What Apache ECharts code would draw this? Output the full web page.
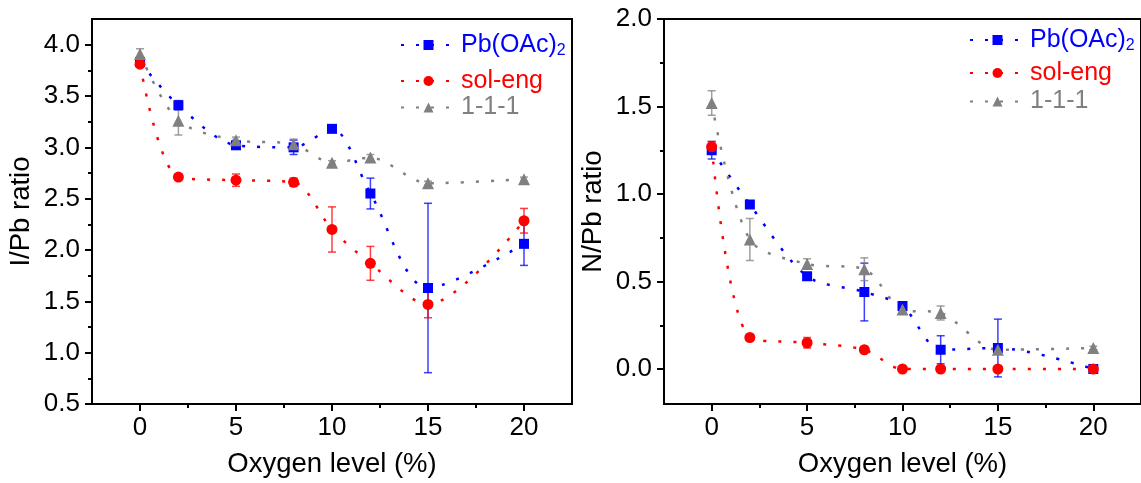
<!DOCTYPE html>
<html>
<head>
<meta charset="utf-8">
<script src="https://cdn.jsdelivr.net/npm/echarts@6/dist/echarts.min.js"></script>
<style>html,body{margin:0;padding:0;background:#fff;}#c{width:1141px;height:483px;}</style>
</head>
<body>
<div id="c"></div>
<script>
// ---- data ----
const oxygen = [0, 2, 5, 8, 10, 12, 15, 20];
const seriesNames = ['Pb(OAc)2', 'sol-eng', '1-1-1'];

// I/Pb ratio (left panel)
const iPb_PbOAc = [3.83, 3.41, 3.02, 3.00, 3.18, 2.55, 1.63, 2.06];
const iPb_PbOAc_err = [0.03, 0.045, 0.02, 0.07, 0.02, 0.15, 0.825, 0.21];
const iPb_solEng = [3.81, 2.71, 2.68, 2.66, 2.20, 1.87, 1.47, 2.285];
const iPb_solEng_err = [0.03, 0.02, 0.06, 0.04, 0.22, 0.165, 0.13, 0.12];
const iPb_111 = [3.91, 3.26, 3.07, 3.03, 2.85, 2.90, 2.65, 2.69];
const iPb_111_err = [0.05, 0.14, 0.03, 0.05, 0.02, 0.03, 0.02, 0.02];

// N/Pb ratio (right panel)
const nPb_PbOAc = [1.25, 0.94, 0.53, 0.44, 0.36, 0.11, 0.12, 0.0];
const nPb_PbOAc_err = [0.05, 0.01, 0.02, 0.165, 0.02, 0.08, 0.165, 0.01];
const nPb_solEng = [1.27, 0.18, 0.15, 0.11, 0.0, 0.0, 0.0, 0.0];
const nPb_solEng_err = [0.03, 0.01, 0.03, 0.01, 0, 0, 0, 0];
const nPb_111 = [1.52, 0.74, 0.60, 0.57, 0.34, 0.32, 0.11, 0.12];
const nPb_111_err = [0.07, 0.12, 0.03, 0.065, 0.01, 0.04, 0.01, 0.01];

// tick values
const xMajorTicks = [0, 5, 10, 15, 20];
const xMinorTicks = [2.5, 7.5, 12.5, 17.5];
const yLeftMajorTicks = [0.5, 1.0, 1.5, 2.0, 2.5, 3.0, 3.5, 4.0];
const yLeftMinorTicks = [0.75, 1.25, 1.75, 2.25, 2.75, 3.25, 3.75];
const yRightMajorTicks = [0.0, 0.5, 1.0, 1.5, 2.0];
const yRightMinorTicks = [0.25, 0.75, 1.25, 1.75];

// ---- styling ----
const FONT = "'Liberation Sans', Arial, sans-serif";
const colors = {'Pb(OAc)2': '#0000ff', 'sol-eng': '#ff0000', '1-1-1': '#808080'};
const symbols = {'Pb(OAc)2': ['rect', 10], 'sol-eng': ['circle', 11], '1-1-1': ['triangle', 12]};

function pairs(vals) { return oxygen.map((x, i) => [x, vals[i]]); }
function errData(vals, errs) {
  const out = [];
  oxygen.forEach((x, i) => { if (errs[i] > 0) out.push([x, vals[i] - errs[i], vals[i] + errs[i]]); });
  return out;
}
function errRender(color) {
  return function (params, api) {
    const x = api.value(0), lo = api.value(1), hi = api.value(2);
    const p1 = api.coord([x, hi]), p2 = api.coord([x, lo]);
    const hw = 4;
    const style = {stroke: color, lineWidth: 1.5, opacity: 0.75};
    return {type: 'group', children: [
      {type: 'line', shape: {x1: p1[0], y1: p1[1], x2: p2[0], y2: p2[1]}, style: style},
      {type: 'line', shape: {x1: p1[0] - hw, y1: p1[1], x2: p1[0] + hw, y2: p1[1]}, style: style},
      {type: 'line', shape: {x1: p2[0] - hw, y1: p2[1], x2: p2[0] + hw, y2: p2[1]}, style: style}
    ]};
  };
}
function lineSeries(name, vals, axisIdx) {
  return {
    name: name, type: 'line', xAxisIndex: axisIdx, yAxisIndex: axisIdx, data: pairs(vals),
    smooth: 0.3, symbol: symbols[name][0], symbolSize: symbols[name][1], z: 3,
    itemStyle: {color: colors[name]},
    lineStyle: {color: colors[name], width: 2.5, type: [3, 12]},
    emphasis: {disabled: true}, animation: false
  };
}
function errSeries(name, vals, errs, axisIdx) {
  return {
    name: 'err ' + name + axisIdx, type: 'custom', xAxisIndex: axisIdx, yAxisIndex: axisIdx,
    data: errData(vals, errs), encode: {x: 0, y: [1, 2]}, renderItem: errRender(colors[name]), z: 2,
    animation: false, silent: true
  };
}

function xAxes(gridIndex) {
  return [
    {
      type: 'value', gridIndex: gridIndex, min: -2.5, max: 22.5, position: 'bottom',
      name: 'Oxygen level (%)', nameLocation: 'middle', nameGap: 46,
      nameTextStyle: {fontSize: 27.5, fontFamily: FONT, color: '#000'},
      axisLine: {show: true, onZero: false, lineStyle: {color: '#000', width: 2}},
      axisTick: {show: true, customValues: xMajorTicks, length: 7, lineStyle: {color: '#000', width: 2}},
      axisLabel: {customValues: xMajorTicks, fontSize: 26, fontFamily: FONT, color: '#000', margin: 11},
      splitLine: {show: false}
    },
    {
      type: 'value', gridIndex: gridIndex, min: -2.5, max: 22.5, position: 'bottom',
      axisLine: {show: false, onZero: false},
      axisTick: {show: true, customValues: xMinorTicks, length: 4, lineStyle: {color: '#000', width: 2}},
      axisLabel: {show: false}, splitLine: {show: false}
    }
  ];
}
function yAxes(gridIndex, min, max, major, minor, title) {
  return [
    {
      type: 'value', gridIndex: gridIndex, min: min, max: max, position: 'left',
      name: title, nameLocation: 'middle', nameGap: 57,
      nameTextStyle: {fontSize: 27.5, fontFamily: FONT, color: '#000'},
      axisLine: {show: true, onZero: false, lineStyle: {color: '#000', width: 2}},
      axisTick: {show: true, customValues: major, length: 7, lineStyle: {color: '#000', width: 2}},
      axisLabel: {customValues: major, fontSize: 26, fontFamily: FONT, color: '#000', margin: 12,
        formatter: v => Number(v).toFixed(1)},
      splitLine: {show: false}
    },
    {
      type: 'value', gridIndex: gridIndex, min: min, max: max, position: 'left',
      axisLine: {show: false, onZero: false},
      axisTick: {show: true, customValues: minor, length: 4, lineStyle: {color: '#000', width: 2}},
      axisLabel: {show: false}, splitLine: {show: false}
    }
  ];
}

function legendRow(name, left, top) {
  return {
    data: [name], left: left, top: top, orient: 'vertical', padding: 0,
    itemWidth: 55, itemHeight: 12.5, selectedMode: false,
    formatter: n => n === 'Pb(OAc)2' ? '{a|Pb(OAc)}{s|2}' : n,
    textStyle: {
      color: colors[name], fontSize: 25, fontFamily: FONT, lineHeight: 28,
      rich: {
        a: {color: colors[name], fontSize: 25, fontFamily: FONT, lineHeight: 28},
        s: {color: colors[name], fontSize: 16, fontFamily: FONT, lineHeight: 15, verticalAlign: 'bottom'}
      }
    }
  };
}

const xa = xAxes(0).concat(xAxes(1));
const ya = yAxes(0, 0.5, 4.25, yLeftMajorTicks, yLeftMinorTicks, 'I/Pb ratio')
  .concat(yAxes(1, -0.2, 2.0, yRightMajorTicks, yRightMinorTicks, 'N/Pb ratio'));

const option = {
  backgroundColor: '#fff',
  animation: false,
  grid: [
    {left: 92, top: 19, width: 480, height: 388, show: true, borderColor: '#000', borderWidth: 2, backgroundColor: 'transparent'},
    {left: 664, top: 19, width: 480, height: 388, show: true, borderColor: '#000', borderWidth: 2, backgroundColor: 'transparent'}
  ],
  xAxis: xa,
  yAxis: ya,
  legend: [
    legendRow('Pb(OAc)2', 400, 31),
    legendRow('sol-eng', 400, 67),
    legendRow('1-1-1', 400, 93.5),
    legendRow('Pb(OAc)2', 969, 26),
    legendRow('sol-eng', 969, 59),
    legendRow('1-1-1', 969, 87.5)
  ],
  series: [
    errSeries('Pb(OAc)2', iPb_PbOAc, iPb_PbOAc_err, 0),
    errSeries('sol-eng', iPb_solEng, iPb_solEng_err, 0),
    errSeries('1-1-1', iPb_111, iPb_111_err, 0),
    lineSeries('Pb(OAc)2', iPb_PbOAc, 0),
    lineSeries('sol-eng', iPb_solEng, 0),
    lineSeries('1-1-1', iPb_111, 0),
    errSeries('Pb(OAc)2', nPb_PbOAc, nPb_PbOAc_err, 2),
    errSeries('sol-eng', nPb_solEng, nPb_solEng_err, 2),
    errSeries('1-1-1', nPb_111, nPb_111_err, 2),
    lineSeries('Pb(OAc)2', nPb_PbOAc, 2),
    lineSeries('sol-eng', nPb_solEng, 2),
    lineSeries('1-1-1', nPb_111, 2)
  ]
};
// series use the major axes: indexes 0 (left) and 2 (right)
const chart = echarts.init(document.getElementById('c'), null, {renderer: 'canvas'});
chart.setOption(option);
</script>
</body>
</html>
